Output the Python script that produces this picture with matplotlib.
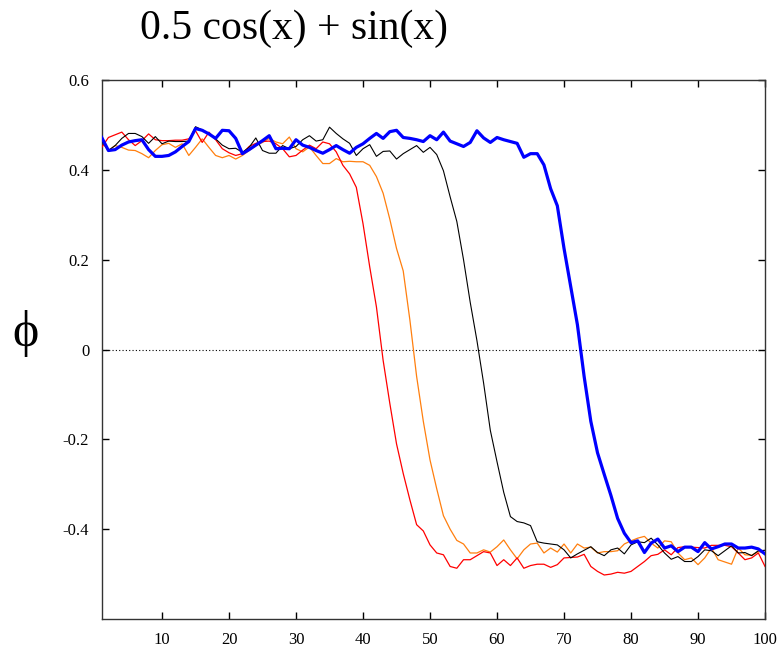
import matplotlib
matplotlib.use("Agg")
import matplotlib.pyplot as plt
import numpy as np

plt.rcParams['font.family'] = ['Liberation Serif', 'DejaVu Serif']

# x grid 1..100
x = np.arange(1, 101)

red = [0.450, 0.472, 0.478, 0.484, 0.467, 0.454, 0.465, 0.480, 0.467, 0.465,
       0.465, 0.466, 0.466, 0.469, 0.487, 0.461, 0.484, 0.467, 0.447, 0.438,
       0.432, 0.436, 0.452, 0.459, 0.463, 0.464, 0.458, 0.447, 0.429, 0.432,
       0.444, 0.455, 0.447, 0.462, 0.458, 0.440, 0.410, 0.391, 0.361, 0.280,
       0.184, 0.095, -0.024, -0.120, -0.210, -0.276, -0.335, -0.390, -0.404, -0.435,
       -0.453, -0.457, -0.483, -0.487, -0.468, -0.468, -0.459, -0.450, -0.453, -0.481,
       -0.468, -0.481, -0.464, -0.487, -0.481, -0.478, -0.478, -0.485, -0.479, -0.464,
       -0.463, -0.462, -0.456, -0.483, -0.494, -0.502, -0.500, -0.496, -0.498, -0.494,
       -0.483, -0.472, -0.459, -0.456, -0.446, -0.457, -0.441, -0.439, -0.440, -0.441,
       -0.442, -0.436, -0.436, -0.436, -0.439, -0.453, -0.468, -0.464, -0.453, -0.483]

orange = [0.461, 0.443, 0.454, 0.450, 0.444, 0.443, 0.436, 0.427, 0.443, 0.456,
          0.459, 0.450, 0.458, 0.432, 0.450, 0.469, 0.450, 0.432, 0.427, 0.432,
          0.424, 0.432, 0.443, 0.454, 0.461, 0.470, 0.462, 0.458, 0.473, 0.447,
          0.440, 0.451, 0.432, 0.414, 0.414, 0.425, 0.418, 0.419, 0.418, 0.418,
          0.410, 0.385, 0.348, 0.290, 0.225, 0.175, 0.065, -0.060, -0.160, -0.246,
          -0.310, -0.370, -0.400, -0.425, -0.433, -0.453, -0.453, -0.446, -0.451, -0.439,
          -0.424, -0.446, -0.466, -0.446, -0.433, -0.431, -0.453, -0.442, -0.451, -0.433,
          -0.453, -0.433, -0.442, -0.440, -0.453, -0.450, -0.450, -0.448, -0.433, -0.426,
          -0.420, -0.416, -0.431, -0.442, -0.426, -0.428, -0.453, -0.468, -0.464, -0.479,
          -0.464, -0.442, -0.468, -0.473, -0.478, -0.442, -0.457, -0.458, -0.450, -0.453]

black = [0.465, 0.443, 0.454, 0.470, 0.481, 0.481, 0.474, 0.459, 0.474, 0.458,
         0.464, 0.463, 0.463, 0.464, 0.496, 0.489, 0.480, 0.469, 0.455, 0.447,
         0.448, 0.439, 0.450, 0.471, 0.443, 0.437, 0.437, 0.454, 0.447, 0.452,
         0.467, 0.476, 0.464, 0.467, 0.495, 0.481, 0.469, 0.459, 0.432, 0.447,
         0.456, 0.430, 0.441, 0.442, 0.424, 0.436, 0.445, 0.454, 0.439, 0.450,
         0.434, 0.398, 0.340, 0.285, 0.200, 0.105, 0.020, -0.075, -0.180, -0.250,
         -0.318, -0.372, -0.383, -0.386, -0.392, -0.428, -0.431, -0.433, -0.435, -0.446,
         -0.464, -0.455, -0.447, -0.439, -0.452, -0.459, -0.446, -0.442, -0.455, -0.435,
         -0.428, -0.430, -0.420, -0.435, -0.453, -0.467, -0.461, -0.472, -0.472, -0.461,
         -0.446, -0.448, -0.459, -0.448, -0.437, -0.453, -0.452, -0.459, -0.448, -0.447]

blue = [0.472, 0.443, 0.445, 0.455, 0.462, 0.465, 0.467, 0.445, 0.430, 0.430,
        0.432, 0.440, 0.452, 0.463, 0.492, 0.488, 0.480, 0.470, 0.488, 0.487,
        0.470, 0.436, 0.445, 0.455, 0.465, 0.476, 0.447, 0.448, 0.447, 0.467,
        0.455, 0.450, 0.443, 0.437, 0.445, 0.454, 0.445, 0.437, 0.450, 0.458,
        0.470, 0.481, 0.470, 0.485, 0.488, 0.472, 0.470, 0.467, 0.463, 0.476,
        0.467, 0.484, 0.464, 0.458, 0.452, 0.461, 0.487, 0.471, 0.461, 0.472,
        0.467, 0.463, 0.459, 0.428, 0.436, 0.436, 0.411, 0.358, 0.320, 0.225,
        0.140, 0.055, -0.060, -0.160, -0.230, -0.278, -0.325, -0.376, -0.409, -0.430,
        -0.426, -0.452, -0.431, -0.422, -0.442, -0.437, -0.450, -0.440, -0.440, -0.450,
        -0.430, -0.444, -0.439, -0.433, -0.433, -0.442, -0.442, -0.440, -0.444, -0.455]

xticks = [10, 20, 30, 40, 50, 60, 70, 80, 90, 100]
yticks = [-0.4, -0.2, 0, 0.2, 0.4, 0.6]
ytick_labels = ["-0.4", "-0.2", "0", "0.2", "0.4", "0.6"]

fig = plt.figure(figsize=(7.77, 6.52), dpi=100)
ax = fig.add_axes([0.1309, 0.0506, 0.8537, 0.8267])

ax.axhline(0, color='black', lw=0.8, ls=(0, (1, 2)), zorder=1)
ax.plot(x, orange, color='#ff7f0e', lw=0.9, zorder=2)
ax.plot(x, red, color='#ff0000', lw=0.9, zorder=3)
ax.plot(x, black, color='black', lw=0.8, zorder=4)
ax.plot(x, blue, color='#0000ff', lw=2.3, zorder=5)

ax.set_xlim(1, 100)
ax.set_ylim(-0.6, 0.6)
ax.set_xticks(xticks)
ax.set_xticklabels([str(t) for t in xticks])
ax.set_yticks(yticks)
ax.set_yticklabels(ytick_labels)
ax.tick_params(direction='in', length=5, width=1, top=True, right=True,
               labelsize=12, pad=9)
for s in ax.spines.values():
    s.set_linewidth(1.0)
    s.set_color('#333333')

fig.text(140 / 777, 1 - 29 / 652, "0.5 cos(x) + sin(x)", fontsize=30,
         ha='left', va='center')
fig.text(26 / 777, 1 - 333 / 652, "\u03d5", fontsize=36, ha='center', va='center')

fig.savefig("out.png", dpi=100)
